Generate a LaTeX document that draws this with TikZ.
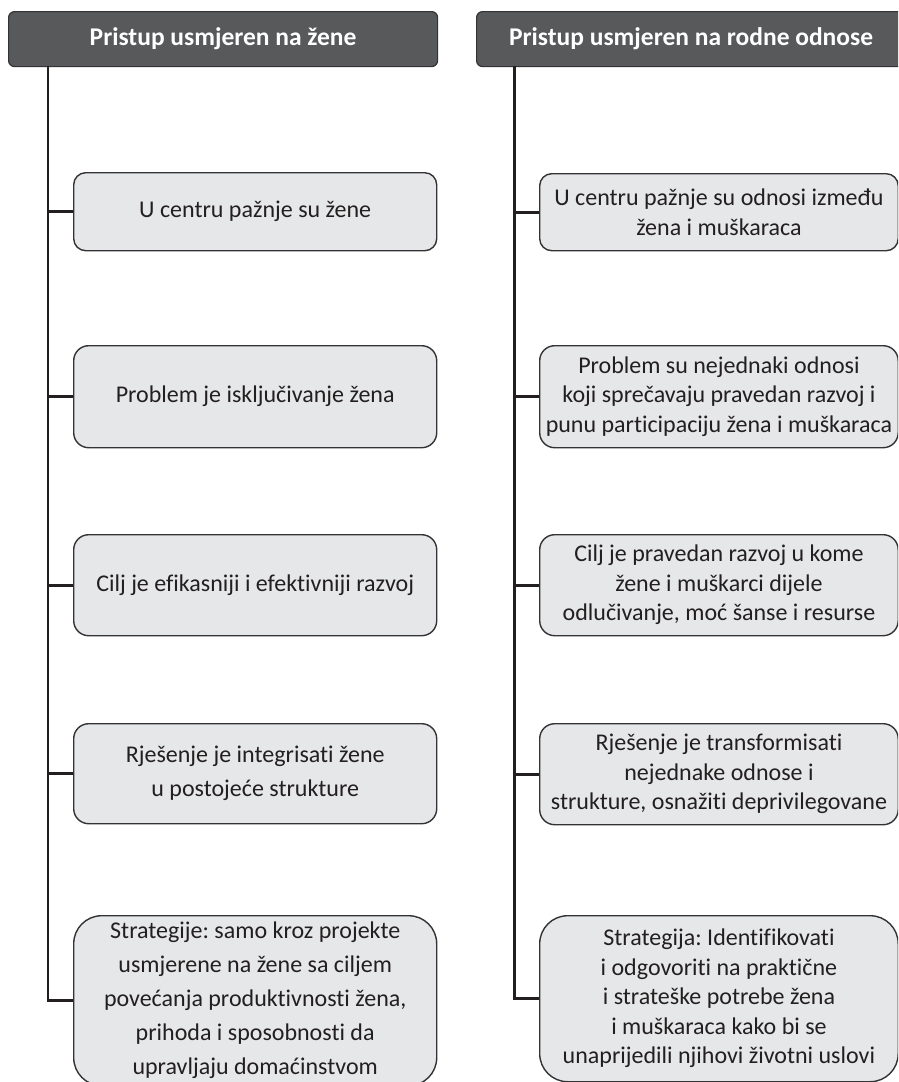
\documentclass[tikz,border=0pt]{standalone}
\usepackage{fontspec}
\setmainfont{Carlito}[Ligatures=NoCommon]
\definecolor{hdr}{HTML}{58595B}
\definecolor{boxf}{HTML}{E6E7E8}
\definecolor{edgec}{HTML}{333335}
\definecolor{wirec}{HTML}{231F20}
\definecolor{txt}{HTML}{231F20}
\frenchspacing
\begin{document}
\begin{tikzpicture}[x=1pt,y=1pt,
  hdrbox/.style={draw=edgec, line width=1.2pt, fill=hdr, rounded corners=6pt, text=white,
    font=\bfseries\fontsize{25.5}{30}\selectfont, minimum height=55pt, minimum width=429pt,
    inner sep=0pt, anchor=north west},
  itembox/.style={draw=edgec, line width=1.4pt, fill=boxf, align=center, inner sep=0pt,
    anchor=north west, text=txt},
  leftbox/.style={itembox, minimum width=363pt, font=\fontsize{24}{34}\selectfont},
  rightbox/.style={itembox, minimum width=358.5pt, font=\fontsize{24}{29.5}\selectfont},
  wire/.style={draw=wirec, line width=2.8pt}]
\useasboundingbox (0,0) rectangle (898,-1082);
\clip (0,0) rectangle (898,-1082);

% headers
\node[hdrbox] (hl) at (8,-11) {Pristup usmjeren na žene};
\node[hdrbox] (hr) at (476,-11) {Pristup usmjeren na rodne odnose};

% left column
\node[leftbox, minimum height=78pt, rounded corners=12pt] (l1) at (73,-172) {U centru pažnje su žene};
\node[leftbox, minimum height=102pt, rounded corners=15pt] (l2) at (73,-345) {Problem je isključivanje žena};
\node[leftbox, minimum height=101pt, rounded corners=15pt] (l3) at (73,-534) {Cilj je efikasniji i efektivniji razvoj};
\node[leftbox, minimum height=100pt, rounded corners=15pt] (l4) at (73,-723) {Rješenje je integrisati žene\\u postojeće strukture};
\node[leftbox, minimum height=170pt, rounded corners=28pt] (l5) at (73,-915) {Strategije: samo kroz projekte\\usmjerene na žene sa ciljem\\povećanja produktivnosti žena,\\prihoda i sposobnosti da\\upravljaju domaćinstvom};

% right column
\node[rightbox, minimum height=77pt, rounded corners=12pt] (r1) at (539,-173) {U centru pažnje su odnosi između\\žena i muškaraca};
\node[rightbox, minimum height=102pt, rounded corners=15pt] (r2) at (539,-345) {Problem su nejednaki odnosi\\koji sprečavaju pravedan razvoj i\\punu participaciju žena i muškaraca};
\node[rightbox, minimum height=101pt, rounded corners=15pt] (r3) at (539,-534) {Cilj je pravedan razvoj u kome\\žene i muškarci dijele\\odlučivanje, moć šanse i resurse};
\node[rightbox, minimum height=101pt, rounded corners=15pt] (r4) at (539,-723) {Rješenje je transformisati\\nejednake odnose i\\strukture, osnažiti deprivilegovane};
\node[rightbox, minimum height=166pt, rounded corners=28pt] (r5) at (539,-915) {Strategija: Identifikovati\\i odgovoriti na praktične\\i strateške potrebe žena\\i muškaraca kako bi se\\unaprijedili njihovi životni uslovi};

% connectors
\coordinate (tl) at (48,-66);
\coordinate (tr) at (514.5,-66);
\draw[wire] (tl) |- (l5.west);
\draw[wire] (tr) |- (r5.west);
\foreach \i in {1,2,3,4}{
  \draw[wire] (tl |- l\i.west) -- (l\i.west);
  \draw[wire] (tr |- r\i.west) -- (r\i.west);
}
\end{tikzpicture}
\end{document}
